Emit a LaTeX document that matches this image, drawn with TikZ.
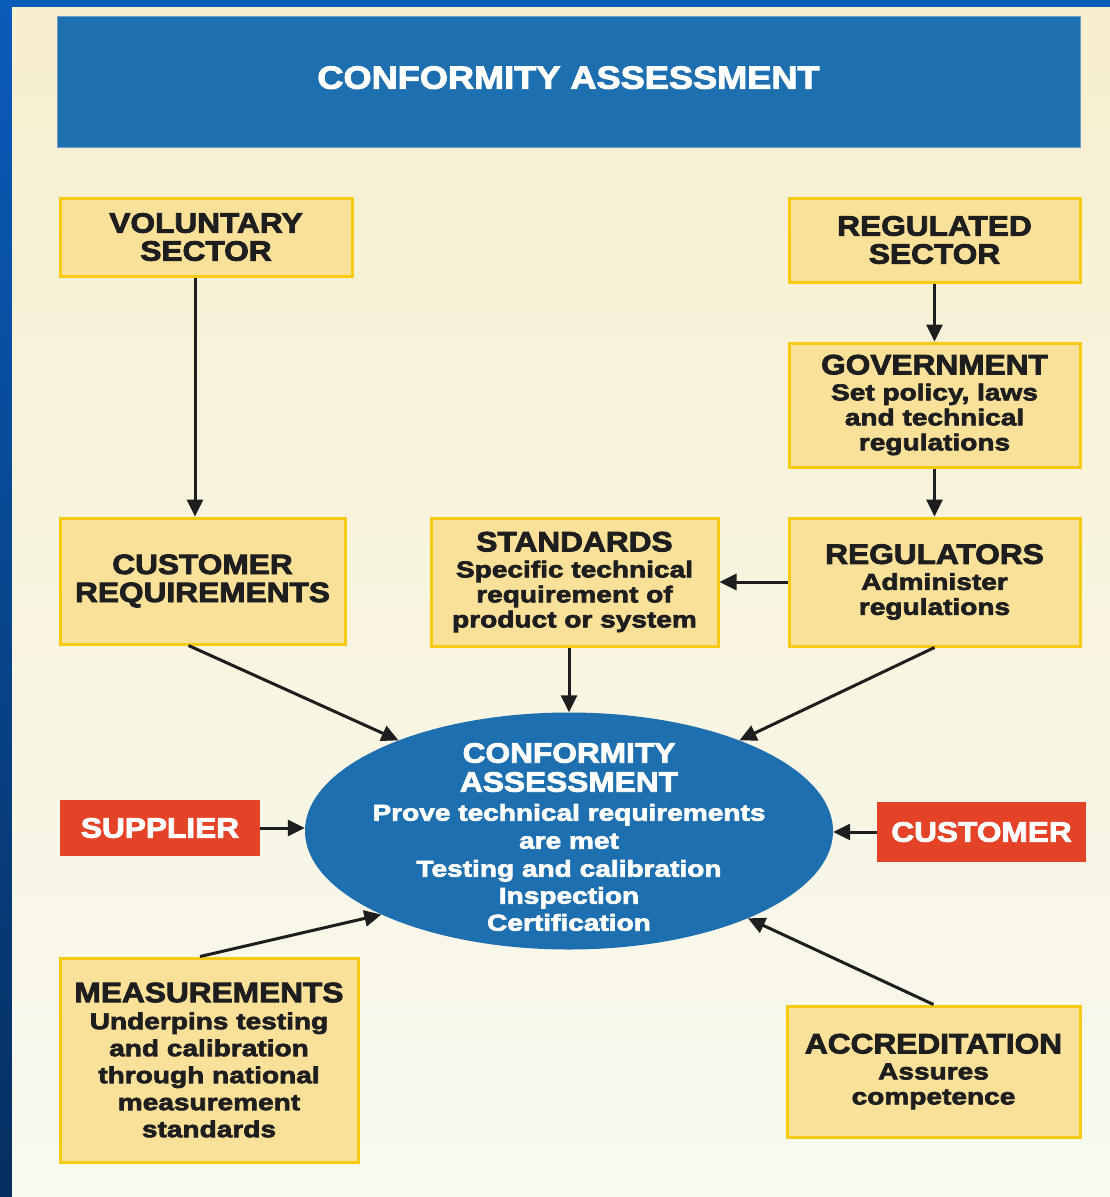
\documentclass[tikz,border=0pt]{standalone}
\usepackage{fontspec}
\setmainfont{Liberation Sans}
\newfontfamily\capfam{Liberation Sans Bold}[FakeStretch=1.13,FakeBold=3]
\newfontfamily\subfam{Liberation Sans Bold}[FakeStretch=1.22,FakeBold=3]
\usetikzlibrary{shapes.geometric,arrows.meta}
\definecolor{slideblue}{HTML}{0A5CBB}
\definecolor{slidedark}{HTML}{052F60}
\definecolor{paneltop}{HTML}{F7EFCE}
\definecolor{panelbot}{HTML}{F8F9F0}
\definecolor{hdrblue}{HTML}{1E6FB0}
\definecolor{hdredge}{HTML}{6E9CC8}
\definecolor{boxfill}{HTML}{F9E19A}
\definecolor{boxedge}{HTML}{F6CA10}
\definecolor{redbox}{HTML}{E54327}
\definecolor{ink}{HTML}{1E1E1E}
\newcommand{\mycap}{\capfam\fontsize{28}{29}\selectfont}
\newcommand{\mysub}{\subfam\fontsize{23}{25}\selectfont}
\newcommand{\myhdr}{\capfam\fontsize{32}{34}\selectfont}
\begin{document}
\begin{tikzpicture}[x=1pt,y=-1pt,
  ybox/.style={draw=boxedge, line width=3pt, fill=boxfill, text=ink, align=center, inner sep=0pt, font=\mycap},
  rbox/.style={fill=redbox, text=white, inner sep=0pt, font=\mycap},
  arr/.style={line width=3pt, draw=ink, -{Triangle[length=17pt,width=16pt,fill=ink]}}]
\useasboundingbox (0,0) rectangle (1110,1197);
% background
\shade[top color=slideblue, bottom color=slidedark] (0,0) rectangle (1110,1197);
\shade[top color=paneltop, bottom color=panelbot] (12,7) rectangle (1110,1197);
% header
\node[fill=hdrblue, draw=hdredge, line width=1pt, minimum width=1023pt, minimum height=131pt, text=white, font=\myhdr, inner sep=0pt, text depth=8pt] (hdr) at (568.5,81.5) {CONFORMITY ASSESSMENT};
% boxes
\node[ybox, minimum width=292pt, minimum height=78pt] (vol) at (206,237) {VOLUNTARY\\[-1pt]SECTOR};
\node[ybox, minimum width=291pt, minimum height=84pt] (reg) at (934.5,240) {REGULATED\\[-1pt]SECTOR};
\node[ybox, minimum width=291pt, minimum height=124pt] (gov) at (934.5,405) {GOVERNMENT\\[-3pt]{\mysub Set policy, laws}\\[-4pt]{\mysub and technical}\\[-4pt]{\mysub regulations}};
\node[ybox, minimum width=285pt, minimum height=126pt] (cust) at (202.5,581) {CUSTOMER\\[-1pt]REQUIREMENTS};
\node[ybox, minimum width=287pt, minimum height=128pt] (std) at (574.5,582) {STANDARDS\\[-3pt]{\mysub Specific technical}\\[-4pt]{\mysub requirement of}\\[-4pt]{\mysub product or system}};
\node[ybox, minimum width=291pt, minimum height=128pt] (regs) at (934.5,582) {REGULATORS\\[-3pt]{\mysub Administer}\\[-4pt]{\mysub regulations}};
\node[rbox, minimum width=200pt, minimum height=56pt] (sup) at (160,828) {SUPPLIER};
\node[rbox, minimum width=209pt, minimum height=60pt] (custr) at (981.5,832) {CUSTOMER};
\node[ellipse, fill=hdrblue, minimum width=528pt, minimum height=237pt, inner sep=0pt] (ell) at (569,831) {};
\node[text=white, align=center, font=\mycap, inner sep=0pt] (ellt) at (569,837) {CONFORMITY\\ASSESSMENT\\{\mysub Prove technical requirements}\\[-1pt]{\mysub are met}\\[-1pt]{\mysub Testing and calibration}\\[-2pt]{\mysub Inspection}\\[-2pt]{\mysub Certification}};
\node[ybox, minimum width=298pt, minimum height=204pt] (meas) at (209,1060) {MEASUREMENTS\\[-2pt]{\mysub Underpins testing}\\[-2pt]{\mysub and calibration}\\[-2pt]{\mysub through national}\\[-2pt]{\mysub measurement}\\[-2pt]{\mysub standards}};
\node[ybox, minimum width=293pt, minimum height=131pt] (acc) at (933.5,1071.5) {ACCREDITATION\\[-3pt]{\mysub Assures}\\[-4pt]{\mysub competence}};
% connectors
\draw[arr] ([xshift=-11pt]vol.south) -- ([xshift=-11pt]vol.south |- cust.north);
\draw[arr] (reg.south) -- (gov.north);
\draw[arr] (gov.south) -- (regs.north);
\draw[arr] (regs.west) -- (std.east);
\draw[arr] (std.south -| ell.north) -- (ell.north);
\draw[arr] ([xshift=-14pt]cust.south) -- (ell.152);
\draw[arr] (regs.south) -- (ell.28);
\draw[arr] (sup.east) -- (sup.east -| ell.west);
\draw[arr] (custr.west) -- (custr.west -| ell.east);
\draw[arr] ([xshift=-9pt]meas.north) -- (ell.204);
\draw[arr] (acc.north) -- (ell.334);
\end{tikzpicture}
\end{document}
